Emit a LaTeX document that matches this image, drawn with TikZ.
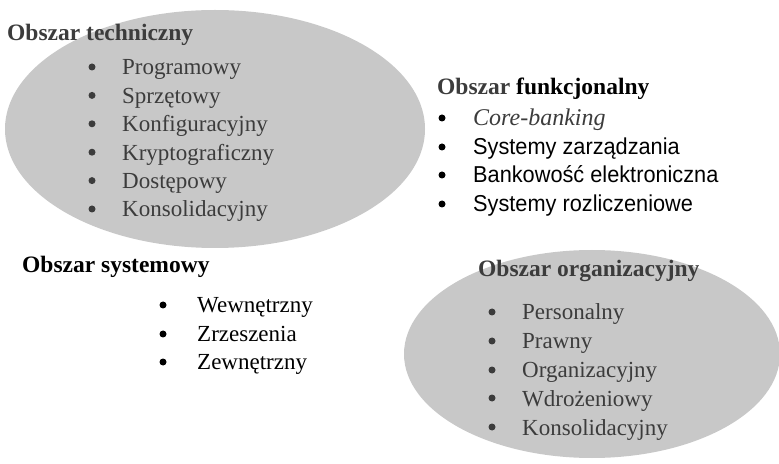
\documentclass[tikz,border=0pt]{standalone}
\usepackage{fontspec}
\setmainfont{Liberation Serif}
\newfontfamily\sansf[FakeStretch=0.945]{Liberation Sans}
\definecolor{ellgray}{HTML}{C8C8C8}
\definecolor{txtgray}{HTML}{3C3C3C}
\begin{document}
\begin{tikzpicture}[x=1bp,y=-1bp,
  txt/.style={anchor=base west, inner sep=0pt, font=\fontsize{23bp}{28bp}\selectfont},
  head/.style={txt, font=\fontsize{23.5bp}{28bp}\selectfont\bfseries},
  blt/.style={circle, fill, inner sep=0pt, minimum size=7bp},
  stxt/.style={txt, font=\fontsize{23bp}{28bp}\selectfont\sansf},
  itxt/.style={txt, font=\fontsize{24bp}{28bp}\selectfont\itshape},
  ell/.style={fill=ellgray}]
\useasboundingbox (0,0) rectangle (779,464);
\fill[ell] (215,129) ellipse [x radius=210, y radius=119];
\fill[ell] (592,354) ellipse [x radius=188, y radius=104];

% Obszar techniczny
\node[head, txtgray] (th) at (7,41) {Obszar techniczny};
\node[blt, txtgray] (tb1) at (92,67) {};
\node[txt, txtgray] (tt1) at (122,75) {Programowy};
\node[blt, txtgray] (tb2) at (92,95.4) {};
\node[txt, txtgray] (tt2) at (122,103.4) {Sprzętowy};
\node[blt, txtgray] (tb3) at (92,123.8) {};
\node[txt, txtgray] (tt3) at (122,131.8) {Konfiguracyjny};
\node[blt, txtgray] (tb4) at (92,152.2) {};
\node[txt, txtgray] (tt4) at (122,160.2) {Kryptograficzny};
\node[blt, txtgray] (tb5) at (92,180.6) {};
\node[txt, txtgray] (tt5) at (122,188.6) {Dostępowy};
\node[blt, txtgray] (tb6) at (92,209) {};
\node[txt, txtgray] (tt6) at (122,217) {Konsolidacyjny};

% Obszar funkcjonalny
\node[head] (fh) at (437,95) {\textcolor{txtgray}{Obszar} funkcjonalny};
\node[blt] (fb1) at (442,118) {};
\node[itxt, txtgray] (ft1) at (473,126) {Core-banking};
\node[blt] (fb2) at (442,147) {};
\node[stxt] (ft2) at (473,155) {Systemy zarządzania};
\node[blt] (fb3) at (442,175) {};
\node[stxt] (ft3) at (473,183) {Bankowość elektroniczna};
\node[blt] (fb4) at (442,204) {};
\node[stxt] (ft4) at (473,212) {Systemy rozliczeniowe};

% Obszar systemowy
\node[head] (sh) at (22,273) {Obszar systemowy};
\node[blt] (sb1) at (163,305) {};
\node[txt] (st1) at (197,313) {Wewnętrzny};
\node[blt] (sb2) at (163,334) {};
\node[txt] (st2) at (197,342) {Zrzeszenia};
\node[blt] (sb3) at (163,362) {};
\node[txt] (st3) at (197,370) {Zewnętrzny};

% Obszar organizacyjny
\node[head, txtgray] (oh) at (478,277) {Obszar organizacyjny};
\node[blt, txtgray] (ob1) at (492,312) {};
\node[txt, txtgray] (ot1) at (522,320) {Personalny};
\node[blt, txtgray] (ob2) at (492,341) {};
\node[txt, txtgray] (ot2) at (522,349) {Prawny};
\node[blt, txtgray] (ob3) at (492,370) {};
\node[txt, txtgray] (ot3) at (522,378) {Organizacyjny};
\node[blt, txtgray] (ob4) at (492,398) {};
\node[txt, txtgray] (ot4) at (522,406) {Wdrożeniowy};
\node[blt, txtgray] (ob5) at (492,427) {};
\node[txt, txtgray] (ot5) at (522,435) {Konsolidacyjny};
\end{tikzpicture}
\end{document}
